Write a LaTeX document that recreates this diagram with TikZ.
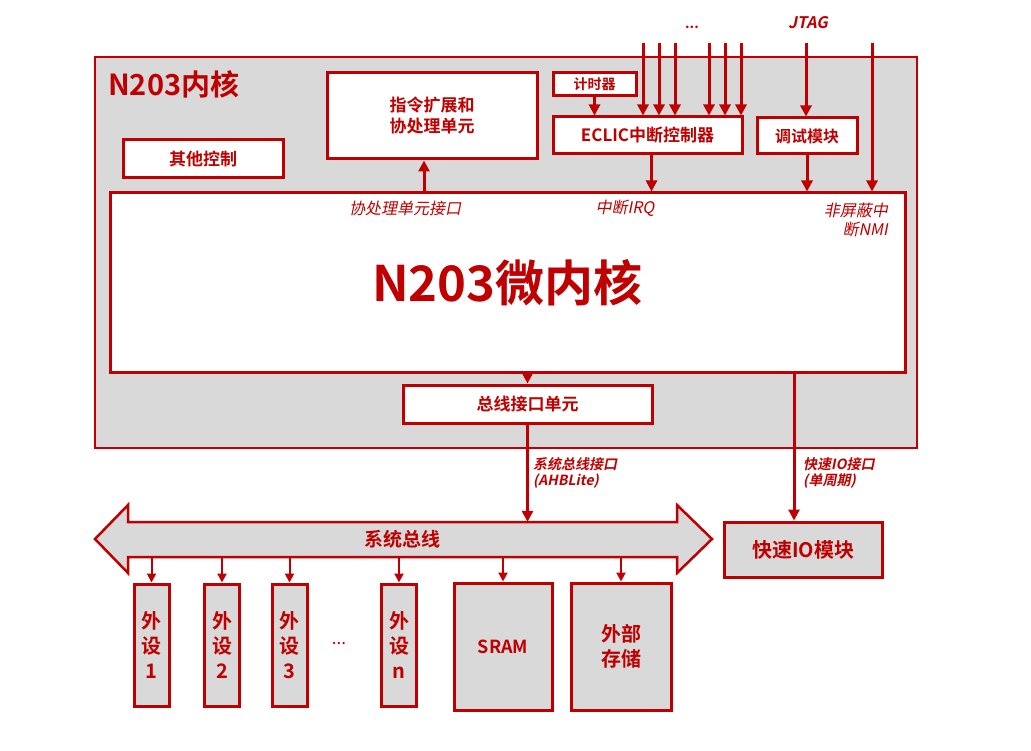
\documentclass[tikz,border=0pt]{standalone}
\usepackage{fontspec}
\setmainfont{Noto Sans CJK SC}[
    BoldFont={Noto Sans CJK SC Bold},
    ItalicFont={Noto Sans CJK SC},
    ItalicFeatures={FakeSlant=0.2},
    BoldItalicFont={Noto Sans CJK SC Bold},
    BoldItalicFeatures={FakeSlant=0.2}]
\usepackage{tikz}
\usepackage{xcolor}
\usetikzlibrary{arrows.meta,positioning}
\definecolor{CoreRed}{HTML}{C00000}
\definecolor{CoreGray}{HTML}{D9D9D9}
\newcommand{\fsz}[2]{\fontsize{#1}{#2}\selectfont}

\begin{document}
\begin{tikzpicture}[x=1pt, y=-1pt,
    wbox/.style={draw=CoreRed, line width=3pt, fill=white, text=CoreRed, inner sep=0pt, align=center, font=\fsz{17}{21}\bfseries},
    gbox/.style={draw=CoreRed, line width=3pt, fill=CoreGray, text=CoreRed, inner sep=0pt, align=center, font=\fsz{20}{25}\bfseries},
    bigarr/.style={draw=CoreRed, line width=3pt, -{Triangle[length=11pt,width=11pt]}},
    thinarr/.style={draw=CoreRed, line width=2pt, -{Triangle[length=9pt,width=9pt]}},
    lbl/.style={text=CoreRed, inner sep=0pt, font=\fsz{16}{19}\itshape}]
    \useasboundingbox[fill=white] (0,0) rectangle (1031,751);

    % N203 core frame
    \node[draw=CoreRed, line width=1.5pt, fill=CoreGray, minimum width=822pt, minimum height=391pt] (n203) at (506,252.5) {};
    \node[text=CoreRed, anchor=west, inner sep=0pt, font=\fsz{29}{32}\bfseries] (title) at (108,84) {N203内核};

    % Blocks inside the frame
    \node[wbox, minimum width=210pt, minimum height=86pt] (copu) at (432,116) {指令扩展和\\协处理单元};
    \node[wbox, minimum width=160pt, minimum height=38pt] (other) at (203,159) {其他控制};
    \node[wbox, minimum width=83pt, minimum height=23pt, font=\fsz{14}{17}\bfseries] (timer) at (594.5,84.5) {计时器};
    \node[wbox, minimum width=189pt, minimum height=37pt] (eclic) at (647.5,135.5) {ECLIC中断控制器};
    \node[wbox, minimum width=100pt, minimum height=36pt, font=\fsz{16}{19}\bfseries] (dbg) at (807,136) {调试模块};
    \node[wbox, minimum width=795pt, minimum height=179pt, font=\fsz{49}{53}\bfseries] (core) at (507.5,282.5) {N203微内核};
    \node[wbox, minimum width=249pt, minimum height=38pt] (biu) at (527.5,404) {总线接口单元};

    % Interface labels on the micro core
    \node[lbl] (copif) at (405,208) {协处理单元接口};
    \node[lbl] (irq) at (625,208) {中断IRQ};
    \node[lbl, anchor=north east, align=right] (nmi) at (888,203) {非屏蔽中\\断NMI};

    % External inputs
    \node[text=CoreRed, font=\fsz{14}{17}\bfseries] (dots) at (692,27) {...};
    \node[text=CoreRed, font=\fsz{16}{19}\bfseries\itshape] (jtag) at (808,23) {JTAG};
    \foreach \x [count=\i] in {643,659,675,709,725,741} {
        \coordinate (in\i) at (\x,43);
        \draw[bigarr] (in\i) -- (in\i |- eclic.north);
    }
    \coordinate (jtagin) at (806,43);
    \draw[bigarr] (jtagin) -- (jtagin |- dbg.north);
    \coordinate (nmiin) at (872,43);
    \draw[bigarr] (nmiin) -- (nmiin |- core.north);

    % Arrows between blocks
    \draw[bigarr] (timer.south) -- (timer.south |- eclic.north);
    \draw[bigarr] ([xshift=4pt]eclic.south) -- ([xshift=4pt]eclic.south |- core.north);
    \draw[bigarr] (dbg.south) -- (dbg.south |- core.north);
    \draw[bigarr] ([xshift=-8pt]copu.south |- core.north) -- ([xshift=-8pt]copu.south);
    \draw[bigarr] (biu.north |- core.south) -- (biu.north);

    % System bus
    \draw[draw=CoreRed, line width=2.5pt, fill=CoreGray, line join=miter]
        (95,539) -- (128,505) -- (128,522) -- (677,522) -- (677,505) -- (712,539)
        -- (677,573) -- (677,557) -- (128,557) -- (128,573) -- cycle;
    \node[text=CoreRed, font=\fsz{19}{22}\bfseries, minimum width=549pt, minimum height=35pt, inner sep=0pt] (bus) at (402.5,539.5) {系统总线};
    \draw[bigarr] (biu.south) -- (biu.south |- bus.north);
    \node[text=CoreRed, anchor=north west, align=left, inner sep=0pt, font=\fsz{14}{16}\bfseries\itshape] (ahb) at (533,457) {系统总线接口\\(AHBLite)};

    % Fast IO
    \node[gbox, minimum width=158pt, minimum height=55pt] (fio) at (803,549.5) {快速IO模块};
    \draw[bigarr] ([xshift=-9pt]fio.north |- core.south) -- ([xshift=-9pt]fio.north);
    \node[text=CoreRed, anchor=north west, align=left, inner sep=0pt, font=\fsz{14}{16}\bfseries\itshape] (fioif) at (803,457) {快速IO接口\\(单周期)};

    % Peripherals and memories
    \node[gbox, minimum width=35pt, minimum height=122pt] (p1) at (151.5,645) {外\\设\\1};
    \node[gbox, minimum width=35pt, minimum height=122pt] (p2) at (222,645) {外\\设\\2};
    \node[gbox, minimum width=35pt, minimum height=122pt] (p3) at (289.5,645) {外\\设\\3};
    \node[gbox, minimum width=35pt, minimum height=122pt] (pn) at (399,645) {外\\设\\n};
    \node[text=CoreRed, font=\fsz{17}{20}] (pdots) at (339,644) {...};
    \node[gbox, minimum width=98pt, minimum height=127pt, font=\fsz{18}{22}\bfseries] (sram) at (503,646.5) {SRAM};
    \node[gbox, minimum width=100pt, minimum height=127pt] (ext) at (621,646.5) {外部\\存储};
    \foreach \p in {p1,p2,p3,pn,sram,ext}
        \draw[thinarr] (\p.north |- bus.south) -- (\p.north);

\end{tikzpicture}
\end{document}
